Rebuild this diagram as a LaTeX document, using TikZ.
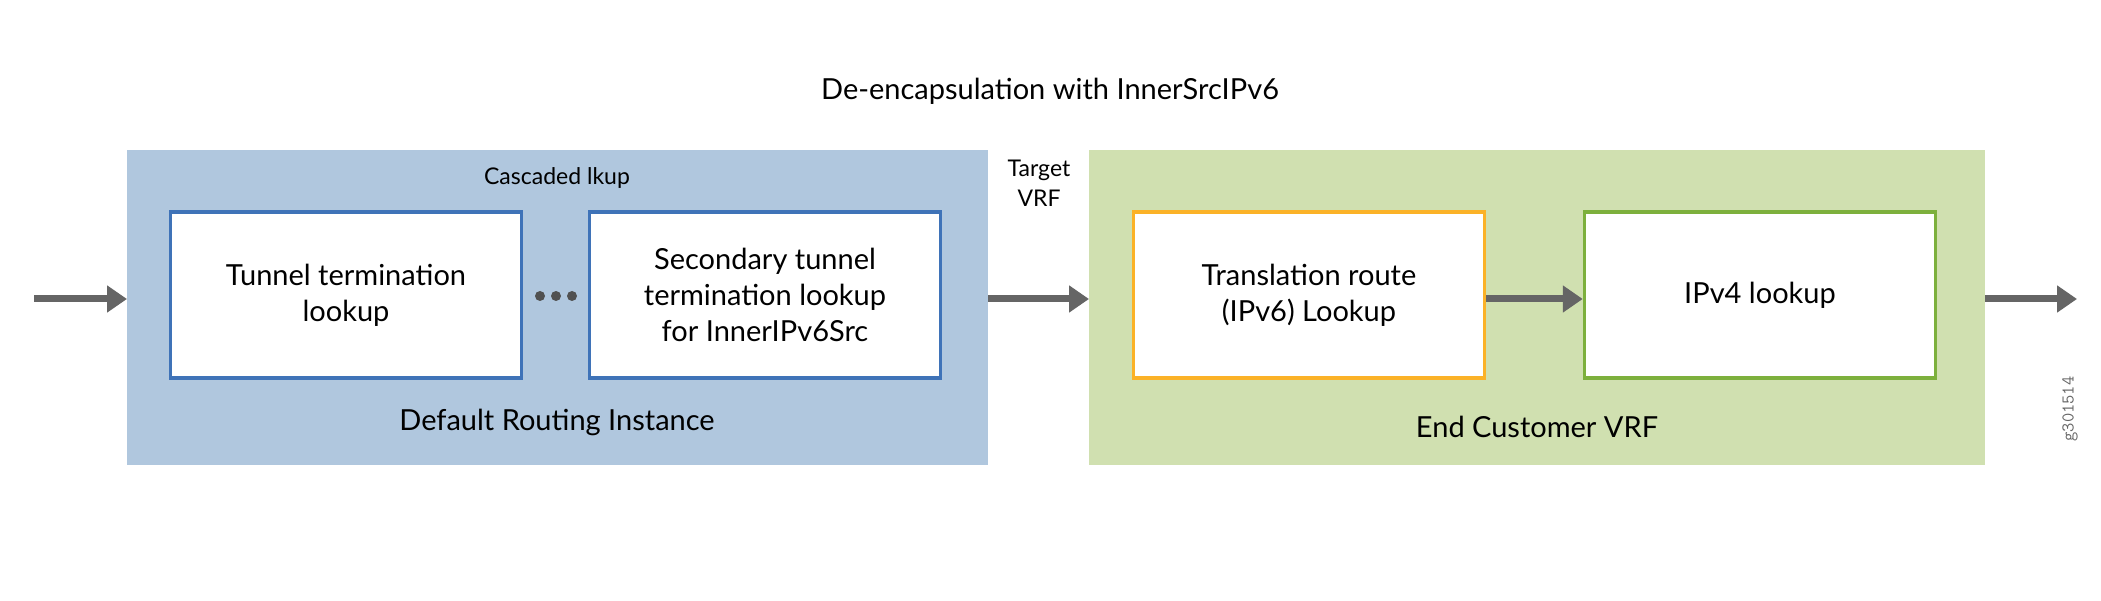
\documentclass[tikz,border=0pt]{standalone}
\usepackage{fontspec}
\setmainfont{Lato}
\usetikzlibrary{arrows.meta}
\definecolor{bluebg}{HTML}{B0C7DE}
\definecolor{greenbg}{HTML}{D0E0B0}
\definecolor{bluebd}{HTML}{3F73B8}
\definecolor{orangebd}{HTML}{FBB227}
\definecolor{greenbd}{HTML}{7DB03D}
\definecolor{arr}{HTML}{656565}
\begin{document}
\begin{tikzpicture}[x=1pt,y=-1pt,
  inner/.style={draw=#1,line width=3.5pt,fill=white,minimum width=351pt,minimum height=166pt,align=center,font=\fontsize{29}{36}\selectfont,inner sep=0pt},
  flow/.style={draw=arr,line width=7pt,-{Triangle[length=20pt,width=26pt]}},
  lbl/.style={font=\fontsize{29}{36}\selectfont},
  small/.style={font=\fontsize{23}{30}\selectfont,align=center}]
\useasboundingbox (0,0) rectangle (2101,601);
\node[lbl] (title) at (1050,91) {De-encapsulation with InnerSrcIPv6};
\fill[bluebg] (127,150) rectangle (988,465);
\fill[greenbg] (1089,150) rectangle (1985,465);
\node[small] (casc) at (557,178) {Cascaded lkup};
\node[lbl] (dri) at (557,422) {Default Routing Instance};
\node[lbl] (ecv) at (1537,427) {End Customer VRF};
\node[small] (tvrf) at (1039,183) {Target\\VRF};
\node[inner=bluebd] (b1) at (346,295) {Tunnel termination\\lookup};
\node[inner=bluebd] (b2) at (765,295) {Secondary tunnel\\termination lookup\\for InnerIPv6Src};
\node[inner=orangebd] (b3) at (1309,295) {Translation route\\(IPv6) Lookup};
\node[inner=greenbd] (b4) at (1760,295) {IPv4 lookup};
\foreach \i/\x in {1/540,2/556,3/572} \fill[arr!80!black] (\x,296) circle (5pt);
\coordinate (in) at (34,299);
\coordinate (out) at (2077,299);
\coordinate (bl) at (127,299);
\coordinate (br) at (988,299);
\coordinate (gl) at (1089,299);
\coordinate (gr) at (1985,299);
\draw[flow] (in) -- (bl);
\draw[flow] (br) -- (gl);
\draw[flow] (b3.east |- gl) -- (b4.west |- gl);
\draw[flow] (gr) -- (out);
\node[rotate=90,font=\fontsize{18}{20}\selectfont\ttfamily,text=arr] (id) at (2070,409) {g301514};
\end{tikzpicture}
\end{document}
